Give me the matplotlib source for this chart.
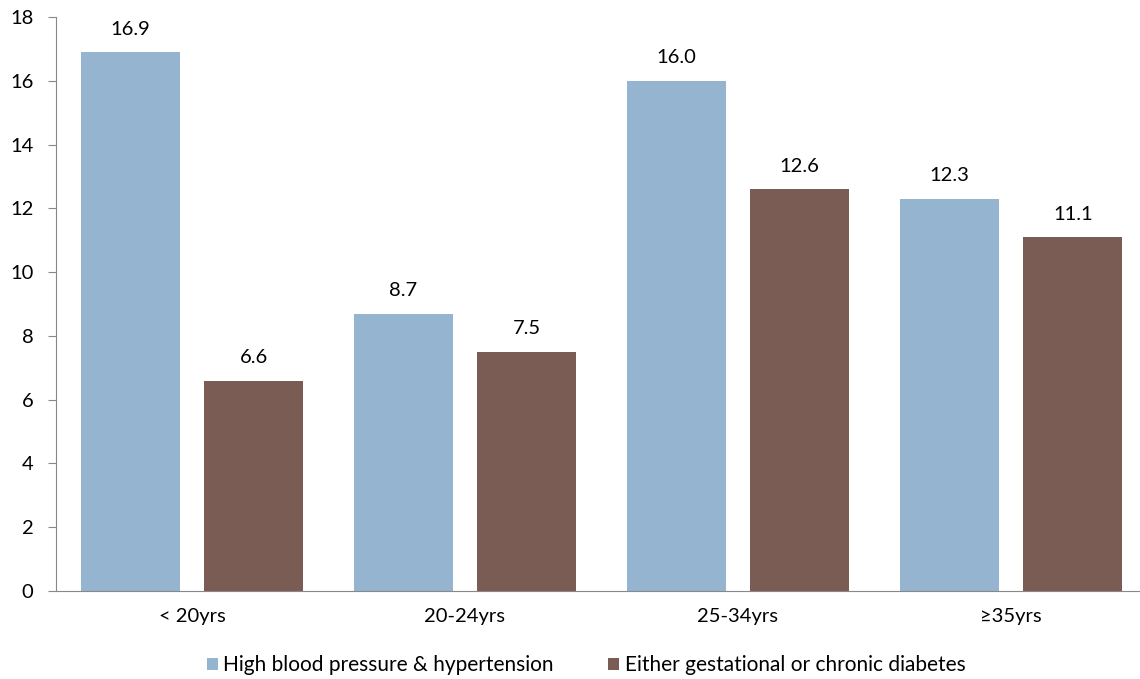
import matplotlib
matplotlib.use("Agg")
import matplotlib.pyplot as plt
import numpy as np

categories = ["< 20yrs", "20-24yrs", "25-34yrs", "\u226535yrs"]
high_bp = [16.9, 8.7, 16.0, 12.3]
diabetes = [6.6, 7.5, 12.6, 11.1]
series_names = ["High blood pressure & hypertension", "Either gestational or chronic diabetes"]

blue = "#95b4cf"
brown = "#7a5c55"

plt.rcParams['font.family'] = ['Lato', 'DejaVu Sans']

fig = plt.figure(figsize=(11.4, 6.79), dpi=100)
ax = fig.add_axes([55.5 / 1140, 88 / 679, 1 - 55.5 / 1140, (591 - 17) / 679])

x = np.arange(len(categories))
w = 0.363
off = 0.2265
b1 = ax.bar(x - off, high_bp, w, color=blue, label=series_names[0])
b2 = ax.bar(x + off, diabetes, w, color=brown, label=series_names[1])

for bars, vals in ((b1, high_bp), (b2, diabetes)):
    for r, v in zip(bars, vals):
        ax.text(r.get_x() + r.get_width() / 2, v + 0.45, f"{v:.1f}",
                ha="center", va="bottom", fontsize=14.5)

ax.set_ylim(0, 18)
ax.set_yticks(range(0, 19, 2))
ax.set_xlim(-0.5, 3.473)
ax.set_xticks(x)
ax.set_xticklabels(categories)
ax.tick_params(axis="y", labelsize=14.5, length=6, color="#888888", pad=10)
ax.tick_params(axis="x", labelsize=14.5, length=0, pad=12)

for s in ("top", "right"):
    ax.spines[s].set_visible(False)
ax.spines["left"].set_color("#888888")
ax.spines["bottom"].set_color("#888888")

leg = fig.legend(handles=[b1, b2], loc="lower center", bbox_to_anchor=(0.514, -0.022),
                 ncol=2, frameon=False, fontsize=15, handlelength=0.55, handleheight=0.55,
                 handletextpad=0.25, columnspacing=2.6)

fig.savefig("out.png", dpi=100)
